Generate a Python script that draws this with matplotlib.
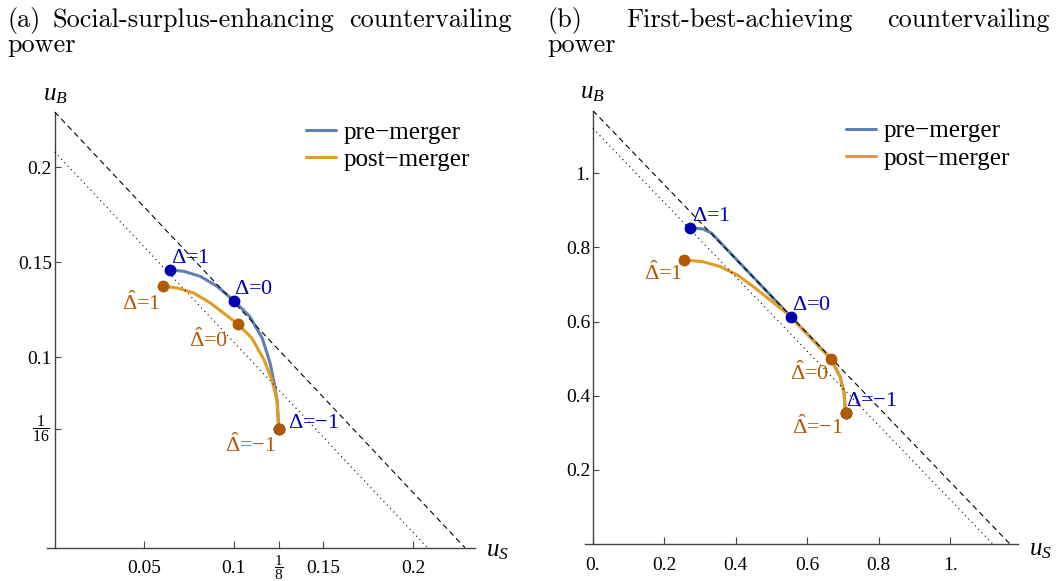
import numpy as np
import matplotlib.pyplot as plt

plt.rcParams.update({
    "font.family": "Liberation Serif",
    "mathtext.fontset": "custom",
    "mathtext.rm": "Liberation Serif",
    "mathtext.it": "Liberation Serif:italic",
    "mathtext.bf": "Liberation Serif:bold",
    "axes.unicode_minus": True,
})

W, H = 1057, 581
BLUE_LINE = "#5E81B5"
ORANGE_LINE = "#E19C24"
BLUE_PT = "#0000B0"
ORANGE_PT = "#B25A00"
AXIS_COL = "#444444"

# ── Panel (a): social-surplus-enhancing ─────────────────────
a_pre_us = [0.0641, 0.0720, 0.0813, 0.0906, 0.1000, 0.1088, 0.1158, 0.1202, 0.1229, 0.1243, 0.1250]
a_pre_ub = [0.1460, 0.1453, 0.1426, 0.1374, 0.1298, 0.1216, 0.1102, 0.0971, 0.0847, 0.0760, 0.0625]
a_post_us = [0.0602, 0.0683, 0.0775, 0.0869, 0.0962, 0.1021, 0.1100, 0.1168, 0.1212, 0.1240, 0.1250]
a_post_ub = [0.1376, 0.1365, 0.1339, 0.1286, 0.1219, 0.1176, 0.1102, 0.0988, 0.0883, 0.0777, 0.0625]
a_pre_dot_us = [0.0641, 0.1000, 0.1250]     # Delta = 1, 0, -1
a_pre_dot_ub = [0.1460, 0.1298, 0.0625]
a_post_dot_us = [0.0602, 0.1021, 0.1250]    # Delta-hat = 1, 0, -1
a_post_dot_ub = [0.1376, 0.1176, 0.0625]
a_dashed = 0.229     # u_S + u_B = const
a_dotted = 0.208
a_xticks = [0.05, 0.1, 0.125, 0.15, 0.2]
a_xlabels = ["0.05", "0.1", r"$\dfrac{1}{8}$", "0.15", "0.2"]
a_yticks = [0.0625, 0.1, 0.15, 0.2]
a_ylabels = [r"$\dfrac{1}{16}$", "0.1", "0.15", "0.2"]

# ── Panel (b): first-best-achieving ─────────────────────────
b_pre_us = [0.272, 0.309, 0.332, 0.555, 0.666, 0.692, 0.703, 0.707]
b_pre_ub = [0.853, 0.849, 0.838, 0.612, 0.500, 0.451, 0.407, 0.354]
b_post_us = [0.255, 0.309, 0.356, 0.403, 0.449, 0.496, 0.543, 0.666, 0.692, 0.703, 0.707]
b_post_ub = [0.766, 0.761, 0.748, 0.726, 0.694, 0.658, 0.622, 0.500, 0.451, 0.407, 0.354]
b_pre_dot_us = [0.272, 0.555, 0.707]
b_pre_dot_ub = [0.853, 0.612, 0.354]
b_post_dot_us = [0.255, 0.666, 0.707]
b_post_dot_ub = [0.766, 0.500, 0.354]
b_dashed = 1.168
b_dotted = 1.12
b_xticks = [0.0, 0.2, 0.4, 0.6, 0.8, 1.0]
b_xlabels = ["0.", "0.2", "0.4", "0.6", "0.8", "1."]
b_yticks = [0.2, 0.4, 0.6, 0.8, 1.0]
b_ylabels = ["0.2", "0.4", "0.6", "0.8", "1."]

pre_names = [r"$\Delta$=1", r"$\Delta$=0", r"$\Delta$=−1"]
post_names = [r"$\hat{\Delta}$=1", r"$\hat{\Delta}$=0", r"$\hat{\Delta}$=−1"]

fig = plt.figure(figsize=(W / 100, H / 100), dpi=100)


def px_axes(x0, x1, y0, y1):
    # x0..x1, y0 (top)..y1 (bottom) in image pixels
    return fig.add_axes([x0 / W, 1 - y1 / H, (x1 - x0) / W, (y1 - y0) / H])


def ftext(x, y, s, **kw):
    fig.text(x / W, 1 - y / H, s, **kw)


def setup(ax, xlim, ylim, xt, xl, yt, yl):
    ax.set_xlim(xlim)
    ax.set_ylim(ylim)
    for s in ["top", "right"]:
        ax.spines[s].set_visible(False)
    for s in ["left", "bottom"]:
        ax.spines[s].set_position(("data", 0))
        ax.spines[s].set_color(AXIS_COL)
        ax.spines[s].set_linewidth(1.0)
    # stacked fractions sit closer to the axis and smaller -> written as annotations
    ax.set_xticks(xt, ["" if "frac" in s else s for s in xl])
    ax.set_yticks(yt, ["" if "frac" in s else s for s in yl])
    for v, s in zip(xt, xl):
        if "frac" in s:
            ax.annotate(s, (v, 0), xytext=(0, -6), textcoords="offset pixels",
                        ha="center", va="top", fontsize=11, annotation_clip=False)
    for v, s in zip(yt, yl):
        if "frac" in s:
            ax.annotate(s, (0, v), xytext=(-5, 0), textcoords="offset pixels",
                        ha="right", va="center", fontsize=11.5, annotation_clip=False)
    ax.tick_params(axis="x", direction="in", length=5, width=0.8, color=AXIS_COL,
                   pad=9, labelsize=14)
    ax.tick_params(axis="y", direction="in", length=4, width=0.8, color=AXIS_COL,
                   pad=2, labelsize=14)
    ax.patch.set_visible(False)


def draw(ax, pre_x, pre_y, post_x, post_y, pdx, pdy, qdx, qdy, dashed, dotted,
         pre_off, post_off):
    l1, = ax.plot(pre_x, pre_y, color=BLUE_LINE, lw=2.2, solid_capstyle="round",
                  solid_joinstyle="round", zorder=3)
    l2, = ax.plot(post_x, post_y, color=ORANGE_LINE, lw=2.2, solid_capstyle="round",
                  solid_joinstyle="round", zorder=4)
    ax.plot([0, dashed], [dashed, 0], color="black", lw=0.8, ls=(0, (5, 3.5)), zorder=4.5)
    ax.plot([0, dotted], [dotted, 0], color="black", lw=0.9, ls=(0, (0.8, 3)), zorder=4.5)
    ax.plot(pdx, pdy, "o", color=BLUE_PT, ms=7.5, zorder=5)
    ax.plot(qdx, qdy, "o", color=ORANGE_PT, ms=7.5, zorder=5)
    for x, y, s, (dx, dy, ha) in zip(pdx, pdy, pre_names, pre_off):
        ax.annotate(s, (x, y), xytext=(dx, dy), textcoords="offset pixels",
                    ha=ha, va="center", color=BLUE_PT, fontsize=16, zorder=6)
    for x, y, s, (dx, dy, ha) in zip(qdx, qdy, post_names, post_off):
        ax.annotate(s, (x, y), xytext=(dx, dy), textcoords="offset pixels",
                    ha=ha, va="center", color=ORANGE_PT, fontsize=16, zorder=6)
    return l1, l2


legend_kw = dict(loc="upper left", bbox_transform=fig.transFigure, frameon=False,
                 fontsize=18, handlelength=1.2, handletextpad=0.3,
                 labelspacing=0.2, borderpad=0, borderaxespad=0)

# ── left panel ──
axa = px_axes(46.7, 475, 112, 547.7)
setup(axa, (-0.0045, 0.2346), (0, 0.229), a_xticks, a_xlabels, a_yticks, a_ylabels)
la = draw(axa, a_pre_us, a_pre_ub, a_post_us, a_post_ub,
          a_pre_dot_us, a_pre_dot_ub, a_post_dot_us, a_post_dot_ub, a_dashed, a_dotted,
          [(1, 11, "left"), (0, 11, "left"), (9, 5, "left")],
          [(-2, -17, "right"), (-29, -16, "center"), (-28, -16, "center")])
axa.legend(la, ["pre−merger", "post−merger"],
           bbox_to_anchor=(306 / W, 1 - 121 / H), **legend_kw)

# ── right panel ──
axb = px_axes(585, 1018, 110.7, 544.2)
setup(axb, (-0.0224, 1.19), (0, 1.168), b_xticks, b_xlabels, b_yticks, b_ylabels)
lb = draw(axb, b_pre_us, b_pre_ub, b_post_us, b_post_ub,
          b_pre_dot_us, b_pre_dot_ub, b_post_dot_us, b_post_dot_ub, b_dashed, b_dotted,
          [(2, 11, "left"), (1, 12, "left"), (1, 11, "left")],
          [(-1, -13, "right"), (-21, -14, "center"), (-28, -14, "center")])
axb.legend(lb, ["pre−merger", "post−merger"],
           bbox_to_anchor=(846 / W, 1 - 120 / H), **legend_kw)

# axis labels
ftext(55, 95, r"$u_B$", ha="center", va="center", fontsize=18)
ftext(497, 551, r"$u_S$", ha="center", va="center", fontsize=18)
ftext(592, 93, r"$u_B$", ha="center", va="center", fontsize=18)
ftext(1040, 550, r"$u_S$", ha="center", va="center", fontsize=18)

# titles (justified like the LaTeX caption)
tkw = dict(fontfamily="cmr10", fontsize=18.9, va="baseline")
ftext(7, 27, "(a)", ha="left", **tkw)
ftext(53, 27, "Social-surplus-enhancing", ha="left", **tkw)
ftext(512, 27, "countervailing", ha="right", **tkw)
ftext(7, 52, "power", ha="left", **tkw)
ftext(547, 27, "(b)", ha="left", **tkw)
ftext(626, 27, "First-best-achieving", ha="left", **tkw)
ftext(1050, 27, "countervailing", ha="right", **tkw)
ftext(547, 52, "power", ha="left", **tkw)

fig.savefig("out.png", dpi=100)
